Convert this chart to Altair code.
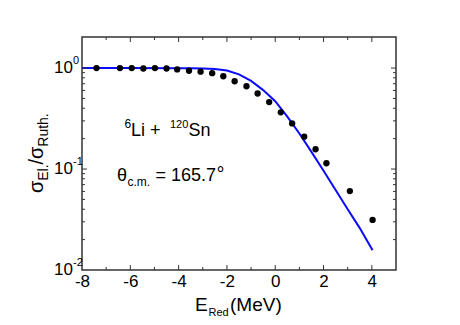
import altair as alt
import pandas as pd

FONT = "Liberation Sans"

# experimental points (E_red in MeV, sigma_El/sigma_Ruth)
exp_x = [-7.40, -6.43, -5.94, -5.46, -4.98, -4.50, -4.06, -3.57, -3.09, -2.61, -2.15,
         -1.68, -1.19, -0.73, -0.25, 0.23, 0.70, 1.20, 1.67, 2.12, 3.09, 4.03]
exp_y = [1.0, 1.0, 1.0, 0.99, 1.0, 0.99, 0.97, 0.94, 0.92, 0.89, 0.83,
         0.74, 0.66, 0.56, 0.46, 0.364, 0.283, 0.209, 0.157, 0.114, 0.0605, 0.0313]

# calculation (blue curve)
calc_x = [-8, -6, -4, -3.5, -3, -2.5, -2, -1.5, -1, -0.5, 0, 0.5, 1, 1.5, 2, 2.5, 3, 3.5, 4.03]
calc_y = [1.0, 1.0, 0.998, 0.995, 0.99, 0.98, 0.945, 0.865, 0.745, 0.605, 0.47, 0.33,
          0.225, 0.148, 0.096, 0.062, 0.040, 0.026, 0.0157]

# axis ticks / labels
x_labels = [-8, -6, -4, -2, 0, 2, 4]
x_major = [-6, -4, -2, 0, 2, 4]
x_minor = [-7, -5, -3, -1, 1, 3]
y_major = [0.1, 1.0]
y_minor = [0.02, 0.03, 0.04, 0.05, 0.06, 0.07, 0.08, 0.09,
           0.2, 0.3, 0.4, 0.5, 0.6, 0.7, 0.8, 0.9]
y_label_vals = [1.0, 0.1, 0.01]
y_label_base = ["10", "10", "10"]
y_label_exp = ["0", "-1", "-2"]

W, H = 314, 233
FRAME = "#333333"

xscale = alt.Scale(domain=[-8, 5], nice=False, zero=False)
yscale = alt.Scale(type="log", domain=[0.01, 2.03], nice=False)
xaxis = alt.Axis(values=x_labels, labelExpr="'' + datum.value", domain=False, ticks=False,
                 grid=False, labelFont=FONT, labelFontSize=17, labelColor="black",
                 labelPadding=3, title=None, labelFlush=False)


def X(field):
    return alt.X(field, type="quantitative", scale=xscale, axis=xaxis)


def Y(field):
    return alt.Y(field, type="quantitative", scale=yscale, axis=None)


line = alt.Chart(pd.DataFrame({"x": calc_x, "y": calc_y})).mark_line(
    color="#0a0aff", strokeWidth=2).encode(x=X("x"), y=Y("y"))

points = alt.Chart(pd.DataFrame({"x": exp_x, "y": exp_y})).mark_circle(
    color="black", opacity=1, size=40).encode(x=X("x"), y=Y("y"))


def xticks(vals, length):
    d = pd.DataFrame({"x": vals})
    bottom = alt.Chart(d).mark_rule(color=FRAME, strokeWidth=1).encode(
        x=X("x"), y=alt.value(H), y2=alt.value(H - length))
    top = alt.Chart(d).mark_rule(color=FRAME, strokeWidth=1).encode(
        x=X("x"), y=alt.value(0), y2=alt.value(length))
    return [bottom, top]


def yticks(vals, length):
    d = pd.DataFrame({"y": vals})
    left = alt.Chart(d).mark_rule(color=FRAME, strokeWidth=1).encode(
        y=Y("y"), x=alt.value(0), x2=alt.value(length))
    right = alt.Chart(d).mark_rule(color=FRAME, strokeWidth=1).encode(
        y=Y("y"), x=alt.value(W), x2=alt.value(W - length))
    return [left, right]


ylab = pd.DataFrame({"v": y_label_vals, "b": y_label_base, "e": y_label_exp})
ylab_base = alt.Chart(ylab).mark_text(font=FONT, fontSize=17, align="right",
                                      baseline="middle", color="black").encode(
    x=alt.value(-9), y=Y("v"), text="b:N")
ylab_exp = alt.Chart(ylab).mark_text(font=FONT, fontSize=11, align="left",
                                     baseline="middle", color="black", dy=-7).encode(
    x=alt.value(-9), y=Y("v"), text="e:N")


def label(txt, x, y, size, angle=0, align="left", baseline="alphabetic"):
    return alt.Chart(pd.DataFrame({"t": [txt]})).mark_text(
        font=FONT, fontSize=size, align=align, baseline=baseline, angle=angle,
        color="black").encode(x=alt.value(x), y=alt.value(y), text="t:N")


texts = [
    # 6Li + 120Sn
    label("6", 42.5, 91, 12),
    label("Li +", 49, 99, 18),
    label("120", 88, 91, 11),
    label("Sn", 106.5, 99, 18),
    # theta_c.m. = 165.7°
    label("θ", 35, 144, 18),
    label("c.m.", 45.5, 149, 12),
    label("= 165.7", 73.5, 144, 18),
    label("°", 134.5, 144, 20),
    # x title
    label("E", 113, 274, 19),
    label("Red", 126.5, 279, 11),
    label("(MeV)", 148, 274, 19),
    # y title (rotated)
    label("σ", -39, 156, 20, angle=270),
    label("El.", -34.5, 143.8, 14, angle=270),
    label("/", -39, 127.5, 20, angle=270),
    label("σ", -39, 121.9, 20, angle=270),
    label("Ruth.", -34.5, 109.7, 14, angle=270),
]

layers = [line, points] + xticks(x_major, 5) + xticks(x_minor, 3) + \
    yticks(y_major, 5) + yticks(y_minor, 3) + [ylab_base, ylab_exp] + texts

chart = alt.layer(*layers).properties(
    width=W, height=H,
    autosize=alt.AutoSizeParams(type="none"),
    padding={"left": 74, "top": 29, "right": 56, "bottom": 47},
    background="white",
).configure_view(stroke=FRAME, strokeWidth=1.5)

chart.save("out.html", embed_options={"renderer": "svg", "actions": False})
